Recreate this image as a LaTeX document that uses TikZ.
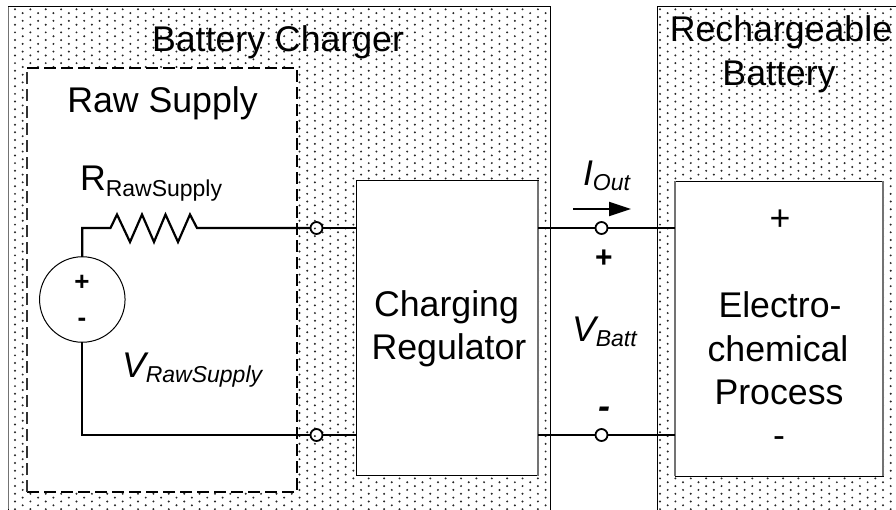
\documentclass[tikz,border=0pt]{standalone}
\usepackage{fontspec}
\setmainfont{Liberation Sans}
\usetikzlibrary{arrows.meta}
\newcommand{\labfs}{\fontsize{35.7}{35.7}\selectfont}
\newcommand{\subfs}{\fontsize{23}{23}\selectfont}
\newcommand{\lowered}[1]{\raisebox{-5pt}{\subfs #1}}
\definecolor{dotc}{gray}{0.15}
\definecolor{edgegrey}{gray}{0.45}
\tikzset{
  lab/.style={inner sep=0pt,outer sep=0pt,anchor=base,font=\labfs,align=center,text=black},
  whitebox/.style={draw=black,line width=1pt,fill=white,inner sep=0pt,outer sep=0pt},
  wire/.style={draw=black,line width=2.2pt,line join=miter},
  terminal/.style={circle,draw=black,line width=1.8pt,fill=none,minimum size=12pt,inner sep=0pt,outer sep=0pt}
}
\begin{document}
\begin{tikzpicture}[x=1pt,y=-1pt]
\useasboundingbox (0,0) rectangle (896,509);
\fill[white] (0,0) rectangle (896,509);
\begin{scope}
\clip (8,6) rectangle (550,509);
\foreach \k in {0,...,70}{\fill[dotc] \foreach \j in {0,...,65}{
  ({15+7.69*\k},{9.3+3.845*mod(\k,2)+7.69*\j}) circle (1.1)};}
\end{scope}
\begin{scope}
\clip (657,6) rectangle (896,509);
\foreach \k in {0,...,31}{\fill[dotc] \foreach \j in {0,...,65}{
  ({660+7.69*\k},{9.3+3.845*mod(\k,2)+7.69*\j}) circle (1.1)};}
\end{scope}
\draw[black,line width=1pt] (8,520) -- (8,6) -- (550,6) -- (550,520);
\draw[edgegrey,line width=1.8pt] (8.5,6.5) -- (8.5,509);
\draw[black,line width=1pt] (657,520) -- (657,6) -- (900,6);
% Raw supply
\fill[white] (27,68) rectangle (297,492);
\draw[black,line width=1.1pt,dash pattern=on 12pt off 5pt] (27,68) -- (297,68) -- (297,492) -- (27,492);
\draw[black!80,line width=1.8pt,dash pattern=on 12pt off 5pt] (27,492) -- (27,68);
% Boxes
\node[whitebox,minimum width=182pt,minimum height=295pt] (reg) at (447,328) {};
\node[whitebox,minimum width=208pt,minimum height=295pt] (proc) at (779,328.5) {};
\draw[edgegrey,line width=1.8pt] (675,181) -- (675,476);
\draw[edgegrey,line width=1.8pt] (883,181) -- (883,476);
\draw[edgegrey,line width=1.4pt] (538,181) -- (538,476);
% Circuit
\node[circle,draw=black,line width=1pt,fill=white,minimum size=85.5pt,inner sep=0pt,outer sep=0pt] (src) at (82.3,299.5) {};
\coordinate (rl) at (110.5,228);
\coordinate (rr) at (197,228);
\coordinate (topwire) at (82.3,228);
\coordinate (botwire) at (82.3,435);
\node[terminal] (t1) at (316.5,228) {};
\node[terminal] (t2) at (316.5,435) {};
\node[terminal] (t3) at (601.5,228) {};
\node[terminal] (t4) at (601.5,435) {};
\draw[wire] (src.north) -- (topwire) -- (rl)
  -- (117,214.5) -- (130,242) -- (142,214.5) -- (154,242) -- (165.5,214.5) -- (178,242) -- (190,214.5) -- (rr) -- (t1.west);
\draw[wire] (t1.east) -- (reg.west |- t1.east);
\draw[wire] (src.south) -- (botwire) -- (t2.west);
\draw[wire] (t2.east) -- (reg.west |- t2.east);
\draw[wire] (reg.east |- t3.west) -- (t3.west);
\draw[wire] (t3.east) -- (proc.west |- t3.east);
\draw[wire] (reg.east |- t4.west) -- (t4.west);
\draw[wire] (t4.east) -- (proc.west |- t4.east);
% Current arrow
\coordinate (ia) at (573,209);
\coordinate (ib) at (631,209);
\draw[line width=2.2pt,-{Triangle[length=22pt,width=14pt]}] (ia) -- (ib);
% Labels
\node[lab] (lbc) at (278,51.5) {Battery Charger};
\node[lab] (lrs) at (162.5,112) {Raw Supply};
\node[lab,anchor=base west] (lr) at (80,190) {R\raisebox{-6.5pt}{\subfs RawSupply}};
\node[lab,anchor=base west] (lv) at (122,377.5) {\itshape V\lowered{\itshape RawSupply}};
\node[lab,anchor=base west] (li) at (583,185) {\itshape I\lowered{\itshape Out}};
\node[lab,anchor=base west] (lvb) at (572,341) {\itshape V\lowered{\itshape Batt}};
\node[lab] (lcr) at (446.5,316.5) {Charging};
\node[lab] (lcr2) at (449,359) {Regulator};
\node[lab] (lre) at (781,41.5) {Rechargeable};
\node[lab] (lre2) at (779,85) {Battery};
\node[lab] (le1) at (780,317.5) {Electro-};
\node[lab] (le2) at (778,361) {chemical};
\node[lab] (le4) at (779,404) {Process};
\node[lab] (pp) at (780,230) {+};
\node[lab] (pm) at (779,447) {-};
\node[lab,font=\fontsize{26}{26}\selectfont\bfseries] (sp) at (82,290) {+};
\node[lab,font=\fontsize{26}{26}\selectfont\bfseries] (sm) at (82,326) {-};
\node[lab,font=\fontsize{30}{30}\selectfont\bfseries] (bp) at (604,267) {+};
\node[lab,font=\fontsize{36}{36}\selectfont\bfseries\itshape] (bm) at (604,418) {-};
\end{tikzpicture}
\end{document}
